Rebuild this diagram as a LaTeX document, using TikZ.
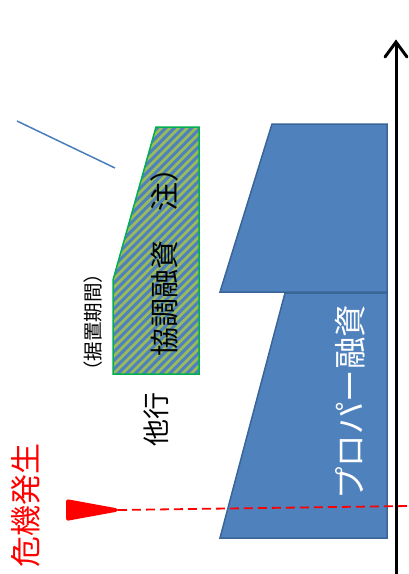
\documentclass[tikz,border=0pt]{standalone}
\usepackage{fontspec}
\newfontfamily\jp{Noto Sans CJK JP}
\definecolor{bfill}{HTML}{4F81BD}
\definecolor{bedge}{HTML}{3A6597}
\definecolor{gfill}{HTML}{9BBB59}
\definecolor{gedge}{HTML}{00B050}
\definecolor{lblue}{HTML}{4A7EBB}
\tikzset{
  block/.style={fill=bfill, draw=bedge, line width=1.5pt, line join=miter},
  vtext/.style={rotate=90, inner sep=0pt, font=\jp},
}
\begin{document}
\begin{tikzpicture}[x=1pt,y=-1pt]
\useasboundingbox (0,0) rectangle (409,574);
% blocks
\draw[block] (285,293) -- (387,293) -- (387,538) -- (220,538) -- cycle;
\draw[block] (272,124) -- (387,124) -- (387,292) -- (220,292) -- cycle;
% hatched shape
\begin{scope}
  \clip (156,127) -- (199,127) -- (199,374) -- (113,374) -- (113,280) -- cycle;
  \fill[gfill] (100,100) rectangle (210,400);
  \foreach \i in {0,...,42}
    \draw[bfill, line width=3.1pt] ({-175+\i*8.6},400) -- ({125+\i*8.6},100);
\end{scope}
\draw[gedge, line width=1.5pt] (156,127) -- (199,127) -- (199,374) -- (113,374) -- (113,280) -- cycle;
% blue line
\coordinate (la) at (17,121);
\coordinate (lb) at (115,168);
\draw[lblue, line width=1.5pt] (la) -- (lb);
% axis
\coordinate (ax0) at (396,574);
\coordinate (ax1) at (396,42);
\draw[line width=3pt] (ax0) -- (ax1);
\draw[line width=3pt, line cap=round, line join=miter] (385,57) -- (ax1) -- (407,57);
% crisis line
\coordinate (tip) at (118,510);
\coordinate (lend) at (409,506);
\fill[red, rounded corners=2.5pt] (66,499) -- (118,508.5) -- (118,511.5) -- (66,521) -- cycle;
\draw[red, line width=1.8pt, dash pattern=on 9pt off 5pt] (tip) -- (lend);
% texts
\node[vtext, font=\jp\fontsize{29}{29}\selectfont] (kyocho) at (164,255) {協調融資　注）};
\node[vtext, font=\jp\fontsize{19.5}{19.5}\selectfont] (sueoki) at (93,322) {（据置期間）};
\node[vtext, font=\jp\fontsize{27}{27}\selectfont] (takou) at (156,419) {他行};
\node[vtext, font=\jp\fontsize{31}{31}\selectfont, text=red] (kiki) at (26,505) {危機発生};
\node[vtext, font=\jp\fontsize{32.5}{32.5}\selectfont, text=white] (proper) at (350,402) {プロパー融資};
\end{tikzpicture}
\end{document}
